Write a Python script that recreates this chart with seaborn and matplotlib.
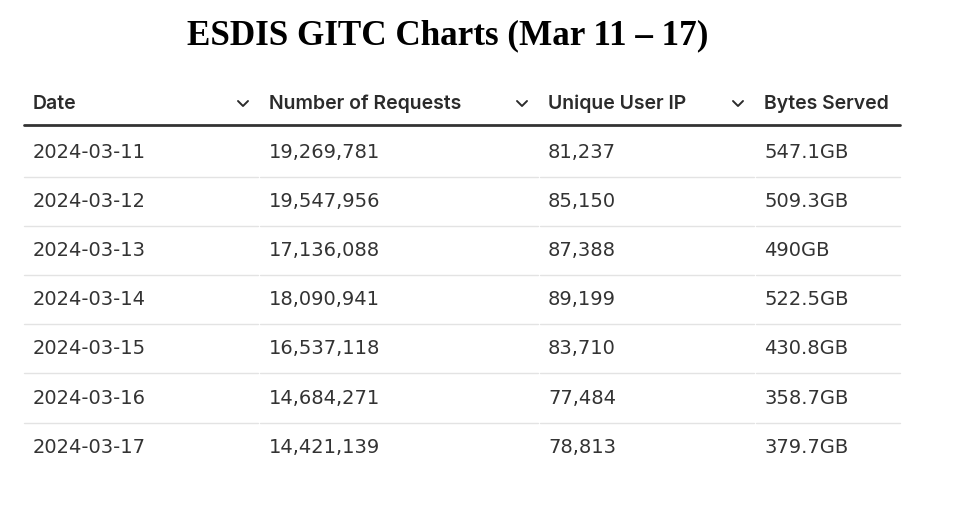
import matplotlib
matplotlib.use("Agg")
import matplotlib.pyplot as plt
import seaborn as sns

title = "ESDIS GITC Charts (Mar 11 – 17)"
columns = ["Date", "Number of Requests", "Unique User IP", "Bytes Served"]
dates = ["2024-03-11", "2024-03-12", "2024-03-13", "2024-03-14", "2024-03-15", "2024-03-16", "2024-03-17"]
requests = [19269781, 19547956, 17136088, 18090941, 16537118, 14684271, 14421139]
unique_ips = [81237, 85150, 87388, 89199, 83710, 77484, 78813]
bytes_served = ["547.1GB", "509.3GB", "490GB", "522.5GB", "430.8GB", "358.7GB", "379.7GB"]

sns.set_theme(style="white")
fig = plt.figure(figsize=(9.55, 5.23), dpi=100)
ax = fig.add_axes([0, 0, 1, 1])
ax.set_xlim(0, 955)
ax.set_ylim(523, 0)
ax.axis("off")

col_x = [33, 269, 548, 764]
col_end = [258, 538, 754, 900]
chev_x = [243, 522, 738]
txt = "#2b2b2b"

ax.text(448, 36, title, ha="center", va="center", fontsize=25.3, fontweight="bold",
        family="Liberation Serif", color="black")

hy = 104
for x, c in zip(col_x, columns):
    ax.text(x, hy, c, ha="left", va="center", fontsize=14, fontweight="semibold",
            family="Inter", color=txt)
for cx in chev_x:
    ax.plot([cx - 5, cx, cx + 5], [hy - 3, hy + 2, hy - 3], color=txt, lw=1.4)
ax.plot([24, 900], [125, 125], color="#333333", lw=2)

y0, dy = 152, 49.2
for i in range(len(dates)):
    y = y0 + i * dy
    vals = [dates[i], f"{requests[i]:,}", f"{unique_ips[i]:,}", bytes_served[i]]
    for x, v in zip(col_x, vals):
        ax.text(x, y, v, ha="left", va="center", fontsize=14, family="DejaVu Sans", color="#333333")
    if i < len(dates) - 1:
        sy = y + dy / 2
        starts = [24, 260, 540, 756]
        for s, e in zip(starts, col_end):
            ax.plot([s, e], [sy, sy], color="#e3e3e3", lw=1)

fig.savefig("out.png", dpi=100)
